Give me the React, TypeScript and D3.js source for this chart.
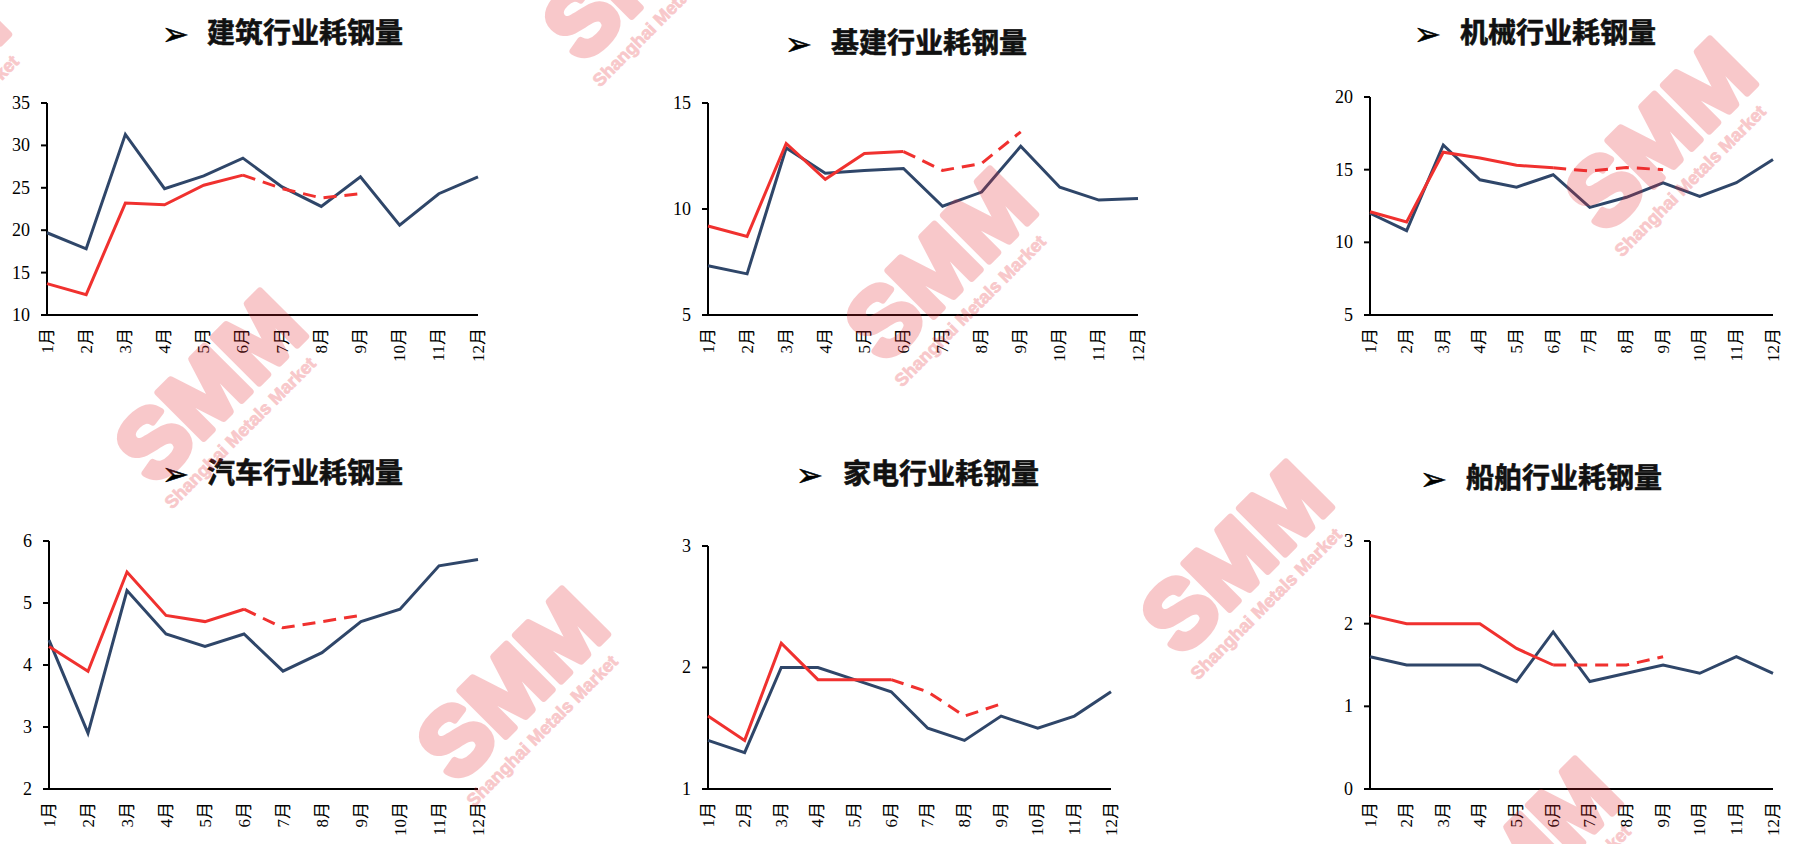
import React from "react";
import * as d3 from "d3";

const months = ["1月", "2月", "3月", "4月", "5月", "6月", "7月", "8月", "9月", "10月", "11月", "12月"];
const titles = ["建筑行业耗钢量", "基建行业耗钢量", "机械行业耗钢量", "汽车行业耗钢量", "家电行业耗钢量", "船舶行业耗钢量"];

// blue: full-year series; red: actual Jan–Jun; redForecast: Jul–Sep (dashed)
const jianzhuBlue = [19.7, 17.8, 31.3, 24.9, 26.4, 28.5, 25.1, 22.8, 26.3, 20.6, 24.3, 26.3];
const jianzhuRed = [13.7, 12.4, 23.2, 23.0, 25.3, 26.5];
const jianzhuRedForecast = [24.9, 23.8, 24.3];
const jianzhuTicks = [10, 15, 20, 25, 30, 35];

const jijianBlue = [7.32, 6.94, 12.88, 11.69, 11.82, 11.91, 10.13, 10.8, 12.96, 11.03, 10.42, 10.5];
const jijianRed = [9.2, 8.71, 13.09, 11.4, 12.62, 12.71];
const jijianRedForecast = [11.82, 12.15, 13.64];
const jijianTicks = [5, 10, 15];

const jixieBlue = [12.0, 10.8, 16.7, 14.3, 13.8, 14.65, 12.4, 13.1, 14.1, 13.16, 14.1, 15.7];
const jixieRed = [12.1, 11.4, 16.2, 15.8, 15.3, 15.13];
const jixieRedForecast = [14.9, 15.15, 15.0];
const jixieTicks = [5, 10, 15, 20];

const qicheBlue = [4.4, 2.9, 5.2, 4.5, 4.3, 4.5, 3.9, 4.2, 4.7, 4.9, 5.6, 5.7];
const qicheRed = [4.3, 3.9, 5.5, 4.8, 4.7, 4.9];
const qicheRedForecast = [4.6, 4.7, 4.8];
const qicheTicks = [2, 3, 4, 5, 6];

const jiadianBlue = [1.4, 1.3, 2.0, 2.0, 1.9, 1.8, 1.5, 1.4, 1.6, 1.5, 1.6, 1.8];
const jiadianRed = [1.6, 1.4, 2.2, 1.9, 1.9, 1.9];
const jiadianRedForecast = [1.8, 1.6, 1.7];
const jiadianTicks = [1, 2, 3];

const chuanboBlue = [1.6, 1.5, 1.5, 1.5, 1.3, 1.9, 1.3, 1.4, 1.5, 1.4, 1.6, 1.4];
const chuanboRed = [2.1, 2.0, 2.0, 2.0, 1.7, 1.5];
const chuanboRedForecast = [1.5, 1.5, 1.6];
const chuanboTicks = [0, 1, 2, 3];

const seriesSets = [
  { blue: jianzhuBlue, red: jianzhuRed, fc: jianzhuRedForecast, ticks: jianzhuTicks },
  { blue: jijianBlue, red: jijianRed, fc: jijianRedForecast, ticks: jijianTicks },
  { blue: jixieBlue, red: jixieRed, fc: jixieRedForecast, ticks: jixieTicks },
  { blue: qicheBlue, red: qicheRed, fc: qicheRedForecast, ticks: qicheTicks },
  { blue: jiadianBlue, red: jiadianRed, fc: jiadianRedForecast, ticks: jiadianTicks },
  { blue: chuanboBlue, red: chuanboRed, fc: chuanboRedForecast, ticks: chuanboTicks },
];

// layout (pixels)
const layouts = [
  { x0: 47, x1: 478, top: 103, bottom: 315, arrowX: 162, titleX: 207, titleY: 33 },
  { x0: 708, x1: 1138, top: 103, bottom: 315, arrowX: 785, titleX: 831, titleY: 43 },
  { x0: 1370, x1: 1773, top: 97, bottom: 315, arrowX: 1414, titleX: 1460, titleY: 33 },
  { x0: 49, x1: 478, top: 541, bottom: 789, arrowX: 162, titleX: 207, titleY: 473 },
  { x0: 708, x1: 1111, top: 546, bottom: 789, arrowX: 796, titleX: 843, titleY: 474 },
  { x0: 1370, x1: 1773, top: 541, bottom: 789, arrowX: 1420, titleX: 1466, titleY: 478 },
];

const watermarkCenters = [
  [-85, 80], [640, -40], [212, 382], [942, 260], [1662, 130], [514, 680], [1238, 553], [1527, 850],
];

const BLUE = "#2f4669";
const RED = "#f0312f";
const tickFont = "'Liberation Serif', 'Times New Roman', 'Noto Sans CJK SC', serif";
const titleFont = "'Noto Sans CJK SC', 'Noto Sans', sans-serif";

function Panel({ idx }: { idx: number }) {
  const L = layouts[idx];
  const S = seriesSets[idx];
  const x = d3.scalePoint<string>().domain(months).range([L.x0, L.x1]).padding(0);
  const ext = d3.extent(S.ticks) as [number, number];
  const y = d3.scaleLinear().domain(ext).range([L.bottom, L.top]);
  const line = d3
    .line<number>()
    .x((_, i) => x(months[i]) as number)
    .y((d) => y(d));
  const fcData = [S.red[S.red.length - 1], ...S.fc];
  const fcLine = d3
    .line<number>()
    .x((_, i) => x(months[i + S.red.length - 1]) as number)
    .y((d) => y(d));
  return (
    <g>
      <text
        x={L.arrowX}
        y={L.titleY}
        dy="0.36em"
        fontSize={32}
        fontFamily="'DejaVu Sans', sans-serif"
        fill="#000"
        stroke="#000"
        strokeWidth={0.6}
      >
        ➢
      </text>
      <text
        x={L.titleX}
        y={L.titleY}
        dy="0.36em"
        fontSize={28}
        fontWeight={700}
        fontFamily={titleFont}
        fill="#111"
        stroke="#111"
        strokeWidth={0.6}
      >
        {titles[idx]}
      </text>
      {S.ticks.map((t) => (
        <g key={t}>
          <line x1={L.x0 - 6} x2={L.x0} y1={y(t)} y2={y(t)} stroke="#000" strokeWidth={2} />
          <text
            x={L.x0 - 17}
            y={y(t)}
            dy="0.33em"
            textAnchor="end"
            fontSize={18}
            fontFamily={tickFont}
            fill="#000"
          >
            {t}
          </text>
        </g>
      ))}
      <line x1={L.x0} x2={L.x0} y1={L.top} y2={L.bottom} stroke="#000" strokeWidth={2} />
      <line x1={L.x0 - 6} x2={L.x1} y1={L.bottom} y2={L.bottom} stroke="#000" strokeWidth={2} />
      {months.map((m) => (
        <text
          key={m}
          transform={`translate(${x(m)},${L.bottom + 13}) rotate(-90)`}
          textAnchor="end"
          dominantBaseline="central"
          fontSize={17}
          fontFamily={tickFont}
          fill="#000"
        >
          {m}
        </text>
      ))}
      <path d={line(S.blue) || ""} fill="none" stroke={BLUE} strokeWidth={3} strokeLinejoin="miter" />
      <path d={line(S.red) || ""} fill="none" stroke={RED} strokeWidth={3} />
      <path d={fcLine(fcData) || ""} fill="none" stroke={RED} strokeWidth={3} strokeDasharray="13,8" />
    </g>
  );
}

function Watermark({ cx, cy }: { cx: number; cy: number }) {
  return (
    <g
      transform={`translate(${cx},${cy}) rotate(-45)`}
      fill="rgb(230,40,50)"
      stroke="rgb(230,40,50)"
      opacity={0.25}
      fontFamily="'Liberation Sans', Arial, sans-serif"
      fontWeight={700}
    >
      <text x={-5} y={34} textAnchor="middle" fontSize={94} strokeWidth={7} strokeLinejoin="round">
        SMM
      </text>
      <text x={-16} y={62} textAnchor="middle" fontSize={18} strokeWidth={0.8}>
        Shanghai Metals Market
      </text>
    </g>
  );
}

export default function App() {
  return (
    <svg
      width={1816}
      height={844}
      style={{ position: "absolute", left: 0, top: 0, background: "#fff" }}
    >
      <rect x={0} y={0} width={1816} height={844} fill="#fff" />
      {layouts.map((_, i) => (
        <Panel key={i} idx={i} />
      ))}
      {watermarkCenters.map(([cx, cy], i) => (
        <Watermark key={i} cx={cx} cy={cy} />
      ))}
    </svg>
  );
}
